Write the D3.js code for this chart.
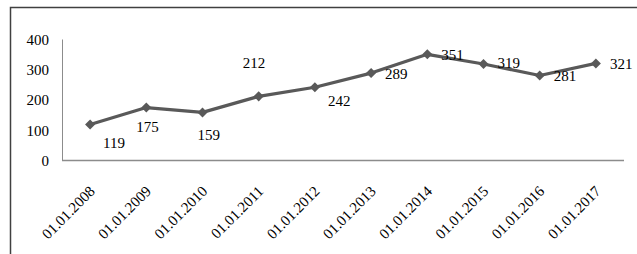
<!DOCTYPE html>
<html><head><meta charset="utf-8">
<script src="https://cdn.jsdelivr.net/npm/d3@7"></script>
<style>html,body{margin:0;padding:0;background:#fff;}svg{display:block;}</style>
</head><body>
<svg id="c" width="637" height="254"></svg>
<script>
const categories = ["01.01.2008","01.01.2009","01.01.2010","01.01.2011","01.01.2012","01.01.2013","01.01.2014","01.01.2015","01.01.2016","01.01.2017"];
const values = [119,175,159,212,242,289,351,319,281,321];
const yTicks = [0,100,200,300,400];
// label offsets (layout only): dx, dy relative to marker
const labelDx = [13, -10, -5, -16, 13, 14, 14, 14, 14, 14];
const labelDy = [18, 19, 22, -34, 13, 1, 0, -1, 0, 0];

(function(){
const svg = d3.select("#c");
const font = "Liberation Serif, Times New Roman, serif";
const fs = "15px";
const mLeft = 62, mRight = 624, mTop = 39.5, mBottom = 160.5;

svg.append("path").attr("d","M10.5,254 L10.5,7.5 L637,7.5").attr("fill","none").attr("stroke","#404040").attr("stroke-width",1.5);

const x = d3.scaleBand().domain(categories).range([mLeft, mRight]);
const y = d3.scaleLinear().domain([0,400]).range([mBottom, mTop]);

svg.append("line").attr("x1",mLeft+0.5).attr("x2",mLeft+0.5).attr("y1",y(400)).attr("y2",y(0)).attr("stroke","#8c8c8c").attr("stroke-width",1);
svg.append("line").attr("x1",mLeft).attr("x2",mRight).attr("y1",y(0)).attr("y2",y(0)).attr("stroke","#8c8c8c").attr("stroke-width",1.3);

const yAxis = d3.axisLeft(y).tickValues(yTicks).tickSize(0).tickPadding(13);
const gy = svg.append("g").attr("transform",`translate(${mLeft},0)`).call(yAxis);
gy.select(".domain").remove();
gy.selectAll("text").attr("font-family",font).attr("font-size",fs).attr("fill","#000");

svg.append("g").selectAll("text").data(categories).join("text")
  .attr("transform", d => `translate(${x(d)+x.bandwidth()/2+2},${y(0)+28}) rotate(-45)`)
  .attr("text-anchor","end").attr("dy","0.35em")
  .attr("font-family",font).attr("font-size",fs).attr("fill","#000")
  .text(d => d);

const cx = d => x(d)+x.bandwidth()/2;
const line = d3.line().x((d,i)=>cx(categories[i])).y(d=>y(d));
svg.append("path").datum(values).attr("d",line).attr("fill","none").attr("stroke","#595959").attr("stroke-width",3.2).attr("stroke-linejoin","round");

svg.append("g").selectAll("path").data(values).join("path")
  .attr("d", d3.symbol(d3.symbolDiamond2, 64))
  .attr("transform",(d,i)=>`translate(${cx(categories[i])},${y(d)})`)
  .attr("fill","#595959");

svg.append("g").selectAll("text").data(values).join("text")
  .attr("x",(d,i)=>cx(categories[i])+labelDx[i])
  .attr("y",(d,i)=>y(d)+labelDy[i])
  .attr("dy","0.35em")
  .attr("font-family",font).attr("font-size",fs).attr("fill","#000")
  .text(d=>d);
})();
</script>
</body></html>
